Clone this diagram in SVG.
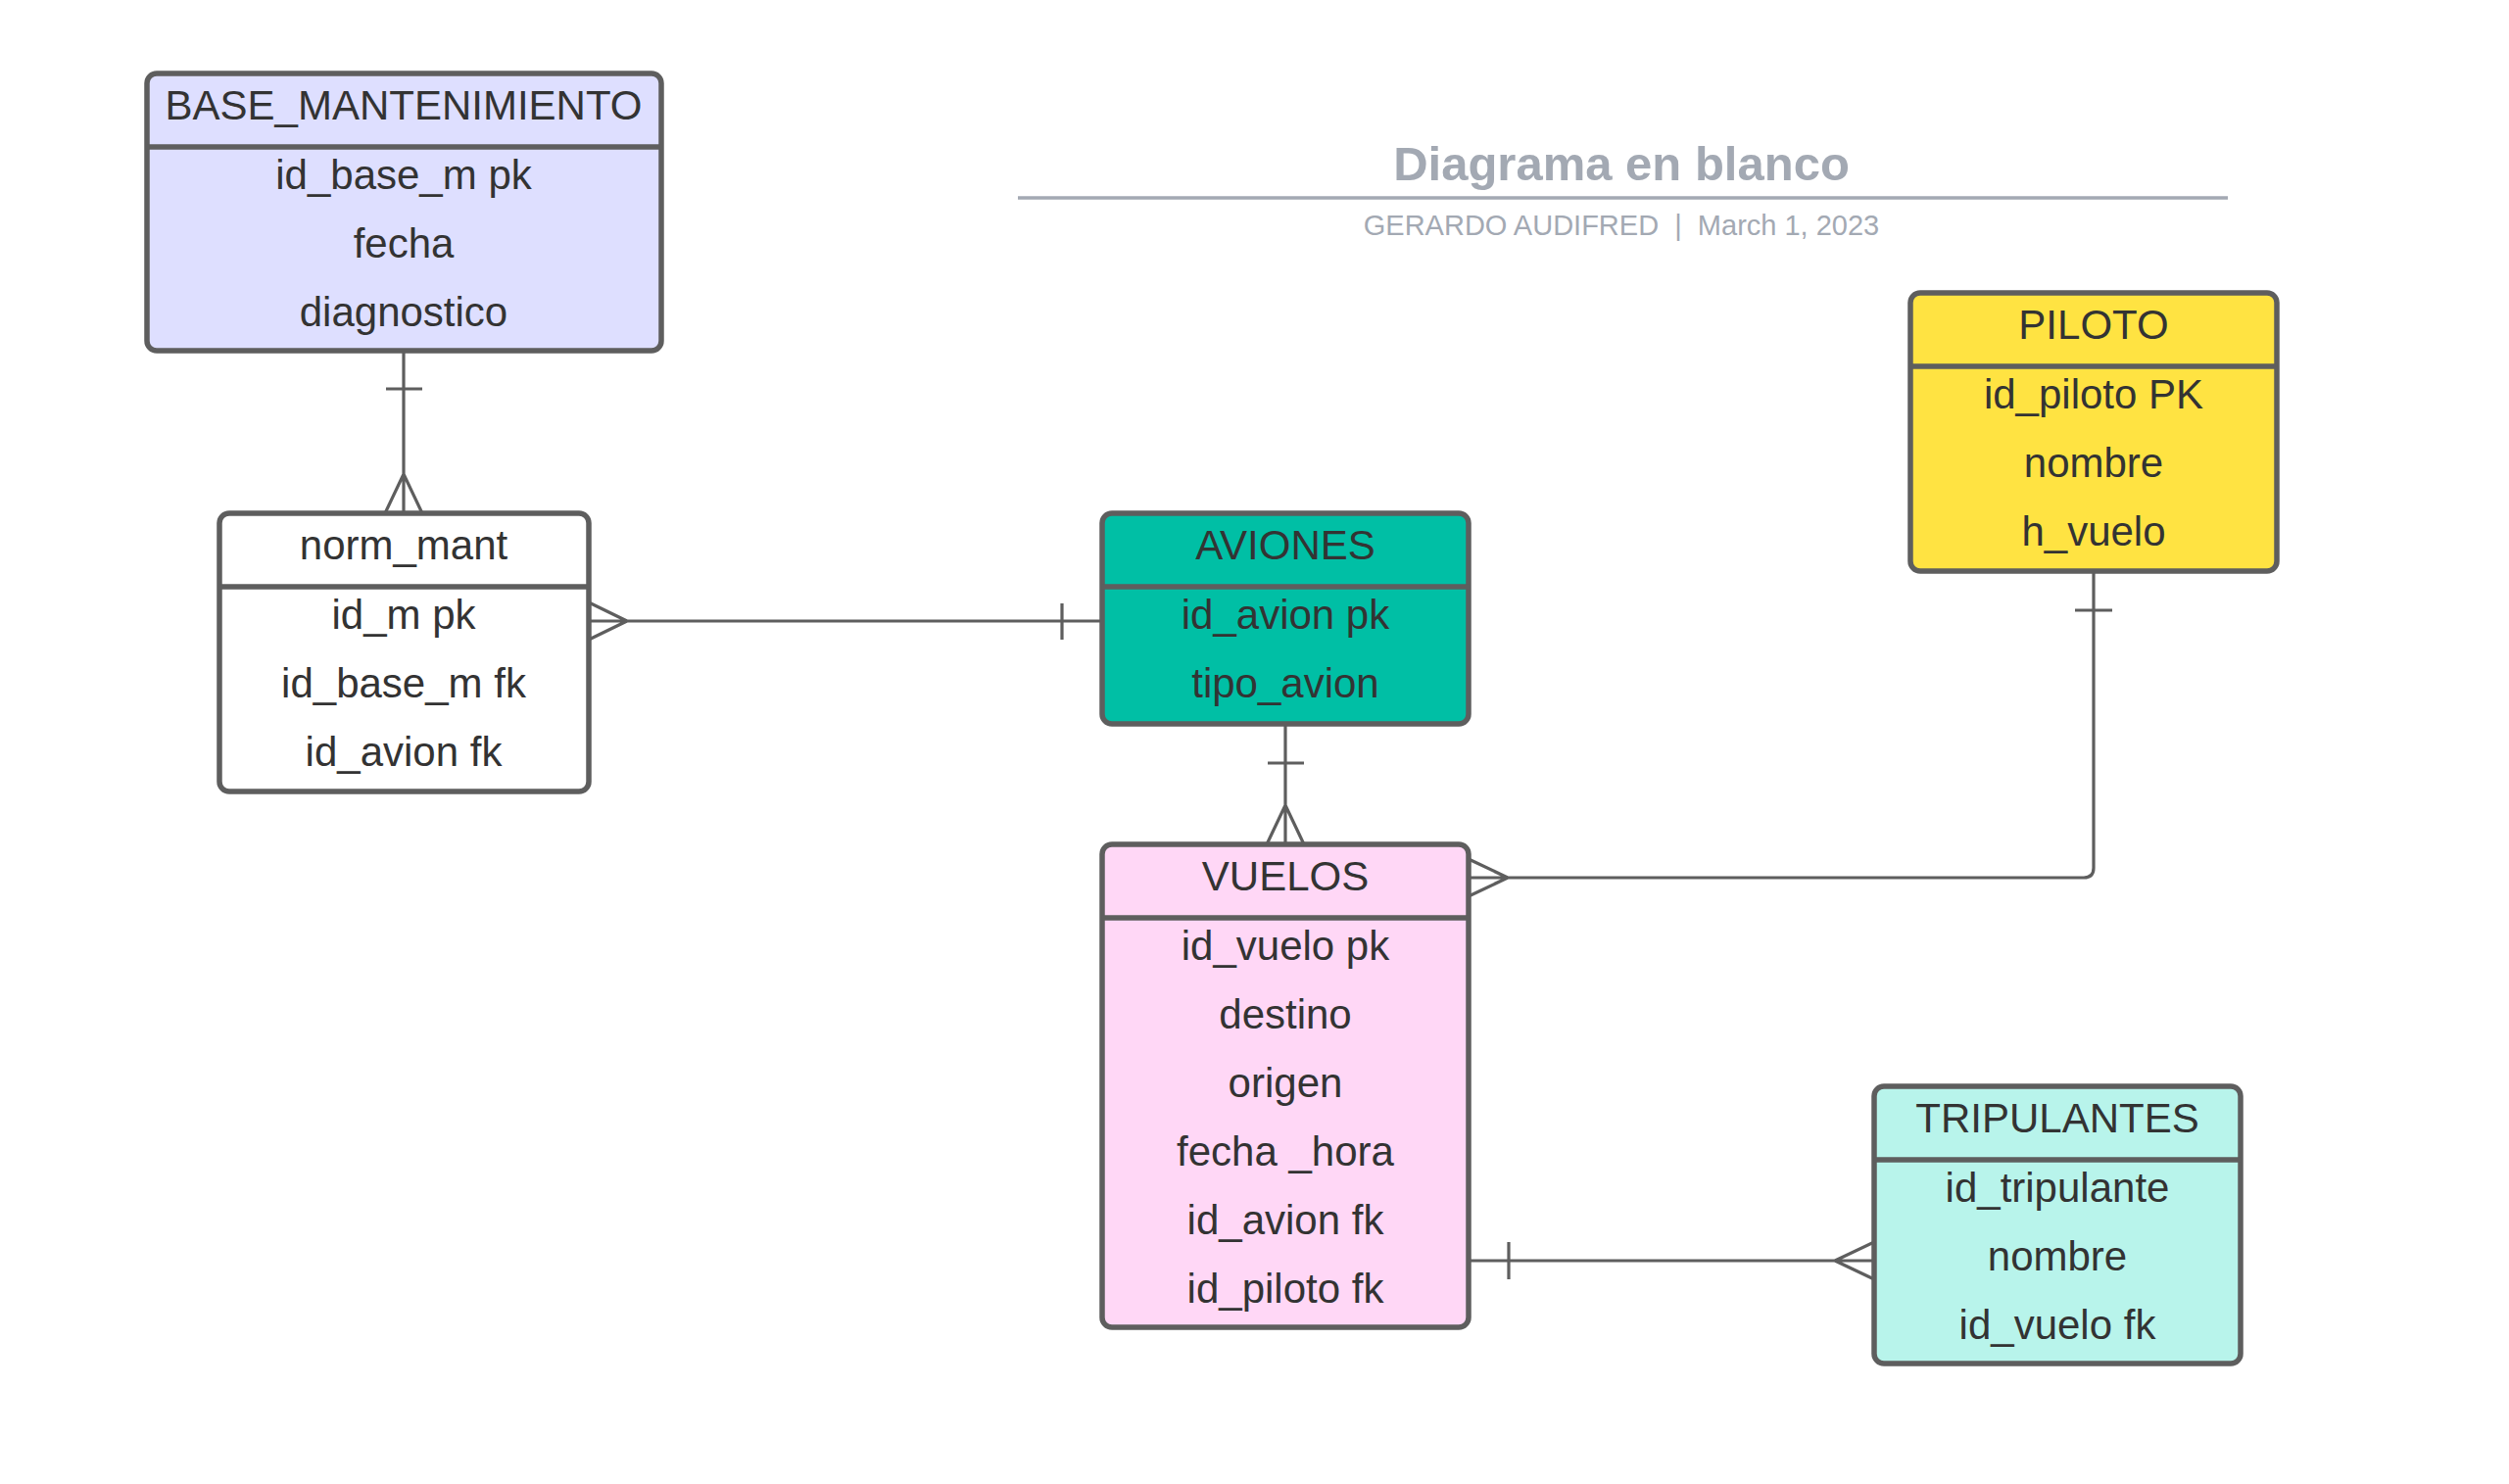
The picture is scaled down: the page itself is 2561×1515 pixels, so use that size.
<svg xmlns="http://www.w3.org/2000/svg" width="2561" height="1515" viewBox="0 0 2561 1515">
<style>
.box{stroke:#5e5e5e;stroke-width:5.5}
.div{stroke:#5e5e5e;stroke-width:5.5}
.t{font-family:"Liberation Sans",Arial,sans-serif;font-size:42px;fill:#333333;text-anchor:middle}
.c{fill:none;stroke:#5e5e5e;stroke-width:3.2}
.ttl{font-family:"Liberation Sans",Arial,sans-serif;fill:#a3a9b3;text-anchor:middle}
</style>
<rect width="2561" height="1515" fill="#ffffff"/>
<g id="title">
<text class="ttl" x="1655" y="184" font-size="49" font-weight="bold">Diagrama en blanco</text>
<line x1="1039" y1="202" x2="2274" y2="202" stroke="#a3a9b3" stroke-width="3.5"/>
<text class="ttl" x="1655" y="240" font-size="29" xml:space="preserve">GERARDO AUDIFRED  |  March 1, 2023</text>
</g>
<g id="connectors">
<!-- BASE -> norm_mant -->
<path class="c" d="M412 358 V524 M394 397 H431 M412 484 L393 524 M412 484 L431 524"/>
<!-- norm_mant -> AVIONES -->
<path class="c" d="M601 634 H1125 M1084 616 V653 M640 634 L601 615 M640 634 L601 653"/>
<!-- AVIONES -> VUELOS -->
<path class="c" d="M1312 740 V862 M1294 779 H1331 M1312 822 L1293 862 M1312 822 L1331 862"/>
<!-- VUELOS -> PILOTO -->
<path class="c" d="M1499 896 H2127 Q2137 896 2137 886 V583 M2118 623 H2156 M1539 896 L1499 877 M1539 896 L1499 915"/>
<!-- VUELOS -> TRIPULANTES -->
<path class="c" d="M1499 1287 H1913 M1540 1268 V1306 M1873 1287 L1913 1268 M1873 1287 L1913 1306"/>
</g>
<g id="base_mantenimiento">
<rect class="box" x="150" y="75" width="525" height="283" rx="10" fill="#dedfff"/>
<line class="div" x1="150" y1="150" x2="675" y2="150"/>
<text class="t" x="412" y="122">BASE_MANTENIMIENTO</text>
<text class="t" x="412" y="193">id_base_m pk</text>
<text class="t" x="412" y="263">fecha</text>
<text class="t" x="412" y="333">diagnostico</text>
</g>
<g id="norm_mant">
<rect class="box" x="224" y="524" width="377" height="284" rx="10" fill="#ffffff"/>
<line class="div" x1="224" y1="599" x2="601" y2="599"/>
<text class="t" x="412" y="571">norm_mant</text>
<text class="t" x="412" y="642">id_m pk</text>
<text class="t" x="412" y="712">id_base_m fk</text>
<text class="t" x="412" y="782">id_avion fk</text>
</g>
<g id="aviones">
<rect class="box" x="1125" y="524" width="374" height="215" rx="10" fill="#00bfa5"/>
<line class="div" x1="1125" y1="599" x2="1499" y2="599"/>
<text class="t" x="1312" y="571">AVIONES</text>
<text class="t" x="1312" y="642">id_avion pk</text>
<text class="t" x="1312" y="712">tipo_avion</text>
</g>
<g id="piloto">
<rect class="box" x="1950" y="299" width="374" height="284" rx="10" fill="#ffe342"/>
<line class="div" x1="1950" y1="374" x2="2324" y2="374"/>
<text class="t" x="2137" y="346">PILOTO</text>
<text class="t" x="2137" y="417">id_piloto PK</text>
<text class="t" x="2137" y="487">nombre</text>
<text class="t" x="2137" y="557">h_vuelo</text>
</g>
<g id="vuelos">
<rect class="box" x="1125" y="862" width="374" height="493" rx="10" fill="#ffd7f6"/>
<line class="div" x1="1125" y1="937" x2="1499" y2="937"/>
<text class="t" x="1312" y="909">VUELOS</text>
<text class="t" x="1312" y="980">id_vuelo pk</text>
<text class="t" x="1312" y="1050">destino</text>
<text class="t" x="1312" y="1120">origen</text>
<text class="t" x="1312" y="1190">fecha _hora</text>
<text class="t" x="1312" y="1260">id_avion fk</text>
<text class="t" x="1312" y="1330">id_piloto fk</text>
</g>
<g id="tripulantes">
<rect class="box" x="1913" y="1109" width="374" height="283" rx="10" fill="#b8f4eb"/>
<line class="div" x1="1913" y1="1184" x2="2287" y2="1184"/>
<text class="t" x="2100" y="1156">TRIPULANTES</text>
<text class="t" x="2100" y="1227">id_tripulante</text>
<text class="t" x="2100" y="1297">nombre</text>
<text class="t" x="2100" y="1367">id_vuelo fk</text>
</g>
</svg>
